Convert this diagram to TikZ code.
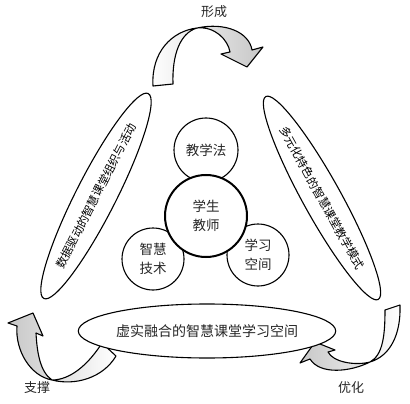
\documentclass[tikz,border=0pt]{standalone}
\usepackage{fontspec}
\newfontfamily\cjk{Noto Sans CJK SC}
\usetikzlibrary{shapes.geometric}
\tikzset{
  outl/.style={draw=black, line width=1.1pt},
  ring/.style={circle, outl, fill=white, inner sep=0pt, align=center,
    font=\cjk\fontsize{13.5}{19}\selectfont, text=black!85},
  oval/.style={ellipse, outl, fill=white, inner sep=0pt, align=center},
  bigarrow/.style={draw=black, line width=1.1pt, line join=round},
  lbl/.style={font=\cjk\fontsize{13}{15}\selectfont, text=black!85, inner sep=0pt}
}
\begin{document}
\begin{tikzpicture}[x=1pt,y=-1pt]
\useasboundingbox (0,0) rectangle (410,404);

% curved arrows
\draw[bigarrow, left color=white, right color=black!22]
  (153,86) .. controls (151,52) and (172,31) .. (197,28)
  .. controls (215,26) and (228,40) .. (230,52)
  -- (221,54) -- (247,67) -- (263,47) -- (252,50)
  .. controls (249,32) and (225,22) .. (197,28)
  .. controls (180,33) and (172,55) .. (173,84)
  -- cycle;

\draw[bigarrow, left color=black!22, right color=white]
  (102,343) .. controls (88,365) and (70,380) .. (52,380)
  .. controls (40,372) and (37,352) .. (36,333)
  -- (43,336) -- (33,313) -- (8,323) -- (17,326)
  .. controls (15,350) and (30,376) .. (52,380)
  .. controls (75,386) and (103,378) .. (116,356)
  -- cycle;

\draw[bigarrow, left color=black!22, right color=white]
  (385,310) .. controls (385,335) and (383,355) .. (370,362)
  .. controls (350,372) and (320,375) .. (310,359)
  -- (300,363) -- (315,342) -- (335,350) -- (328,352)
  .. controls (333,362) and (355,366) .. (370,362)
  .. controls (390,356) and (401,335) .. (400,305)
  -- cycle;

% labels
\node[lbl] (xc) at (214,12) {形成};
\node[lbl] (zc) at (37,388) {支撑};
\node[lbl] (yh) at (351,388) {优化};

% tilted ellipses
\node[oval, rotate=63, minimum width=230pt, minimum height=40pt,
  font=\cjk\fontsize{11.5}{13}\selectfont] (left) at (96,196)
  {数据驱动的智慧课堂组织与活动};
\node[oval, rotate=-61, minimum width=232pt, minimum height=38pt,
  font=\cjk\fontsize{11.5}{13}\selectfont] (right) at (322,198)
  {多元化特色的智慧课堂教学模式};

% bottom ellipse
\node[oval, minimum width=220pt, minimum height=54pt,
  font=\cjk\fontsize{14}{16}\selectfont, text=black!85] (bottom) at (207,331)
  {虚实融合的智慧课堂学习空间};

% circles
\node[ring, minimum size=64pt] (jxf) at (206,150) {教学法};
\node[ring, minimum size=62pt] (zhjs) at (153,259) {智慧\\技术};
\node[ring, minimum size=62pt] (xxkj) at (258,255) {学习\\空间};
\node[ring, line width=2pt, minimum size=82pt] (core) at (206,216) {学生\\教师};
\end{tikzpicture}
\end{document}
